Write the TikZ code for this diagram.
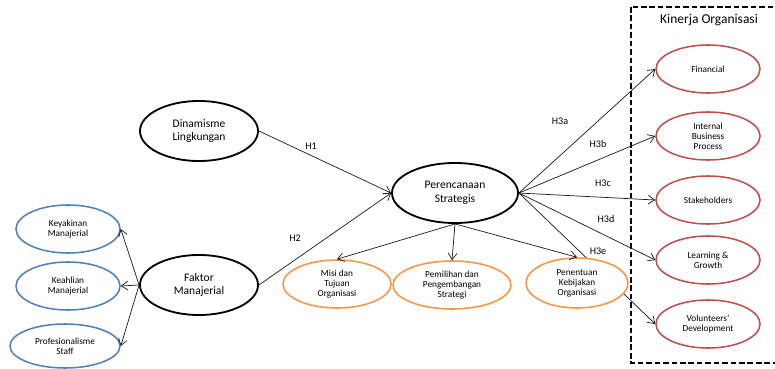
\documentclass[tikz,border=0pt]{standalone}
\usepackage{fontspec}
\setmainfont{Carlito}
\usepackage{tikz}
\usetikzlibrary{arrows.meta,shapes.geometric,backgrounds}
\definecolor{ofblue}{RGB}{79,129,189}
\definecolor{oforange}{RGB}{247,150,70}
\definecolor{ofred}{RGB}{192,80,77}
\tikzset{
  bigell/.style   = {ellipse,draw=black,line width=1.3pt,fill=white,
                     minimum width=2.95cm,minimum height=1.5cm,inner sep=0pt,
                     align=center,font=\fontsize{8.2}{9.8}\selectfont},
  smallell/.style = {ellipse,line width=1.1pt,fill=white,
                     minimum width=2.6cm,minimum height=1.2cm,inner sep=0pt,
                     align=center,font=\fontsize{6.6}{7}\selectfont},
  blueell/.style  = {smallell,draw=ofblue},
  orangeell/.style= {smallell,draw=oforange},
  redell/.style   = {smallell,draw=ofred},
  arr/.style      = {-{Straight Barb[length=1.6mm,width=2.2mm]},gray!20!black,line width=0.5pt},
  hlabel/.style   = {font=\fontsize{7.2}{8}\selectfont}
}
\begin{document}
\begin{tikzpicture}[x=0.025cm,y=-0.025cm]
  \useasboundingbox (0,0) rectangle (775,368);
  % exogenous and mediator
  \node[bigell] (dinamisme)   at (199,131) {Dinamisme\\Lingkungan};
  \node[bigell] (faktor)      at (199,285) {Faktor\\Manajerial};
  \node[bigell,minimum width=3.15cm] (perencanaan) at (455,193) {Perencanaan\\Strategis};
  % indicators of Faktor Manajerial
  \node[blueell] (keyakinan) at (68,229) {Keyakinan\\Manajerial};
  \node[blueell] (keahlian)  at (68,286) {Keahlian\\Manajerial};
  \node[blueell,minimum width=2.75cm,minimum height=1.1cm] (profesi) at (65,346) {Profesionalisme\\Staff};
  % indicators of Perencanaan Strategis
  \node[orangeell,minimum width=2.7cm] (misi)      at (337,284) {Misi dan\\Tujuan\\Organisasi};
  \node[orangeell,minimum width=2.95cm] (pemilihan) at (452,285) {Pemilihan dan\\Pengembangan\\Strategi};
  \node[orangeell,minimum width=2.55cm,minimum height=1.25cm] (penentuan) at (577,283) {Penentuan\\Kebijakan\\Organisasi};
  % Kinerja Organisasi
  \draw[line width=1.2pt,dash pattern=on 4pt off 2pt] (631,7) -- (631,363) -- (790,363)
    (790,7) -- (631,7);
  \node[font=\fontsize{9.6}{11}\selectfont] (kinerja) at (709,20) {Kinerja Organisasi};
  \node[redell] (financial) at (708,69)  {Financial};
  \node[redell] (internal)  at (708,136) {Internal\\Business\\Process};
  \node[redell] (stake)     at (708,200) {Stakeholders};
  \node[redell] (learning)  at (708,260) {Learning \&\\Growth};
  \node[redell] (volunteer) at (708,324) {Volunteers'\\Development};
  % connectors
  \draw[arr] (dinamisme.east) -- (perencanaan.west);
  \draw[arr] (faktor.east) -- (perencanaan.west);
  \draw[arr] (faktor.west) -- (keyakinan.east);
  \draw[arr] (faktor.west) -- (keahlian.east);
  \draw[arr] (faktor.west) -- (profesi.east);
  \draw[arr] (perencanaan.south) -- (misi.north);
  \draw[arr] (perencanaan.south) -- (pemilihan.north);
  \draw[arr] (perencanaan.south) -- (penentuan.north);
  \draw[arr] (perencanaan.east) -- (financial.west);
  \draw[arr] (perencanaan.east) -- (internal.west);
  \draw[arr] (perencanaan.east) -- (stake.west);
  \draw[arr] (perencanaan.east) -- (learning.west);
  \begin{scope}[on background layer]
    \draw[arr] (perencanaan.east) -- (volunteer.west);
  \end{scope}
  % hypothesis labels
  \node[hlabel] (h1)  at (311,146) {H1};
  \node[hlabel] (h2)  at (295,238) {H2};
  \node[hlabel] (h3a) at (560,121) {H3a};
  \node[hlabel] (h3b) at (598,144) {H3b};
  \node[hlabel] (h3c) at (603,183) {H3c};
  \node[hlabel] (h3d) at (606,219) {H3d};
  \node[hlabel] (h3e) at (598,251) {H3e};
\end{tikzpicture}
\end{document}
